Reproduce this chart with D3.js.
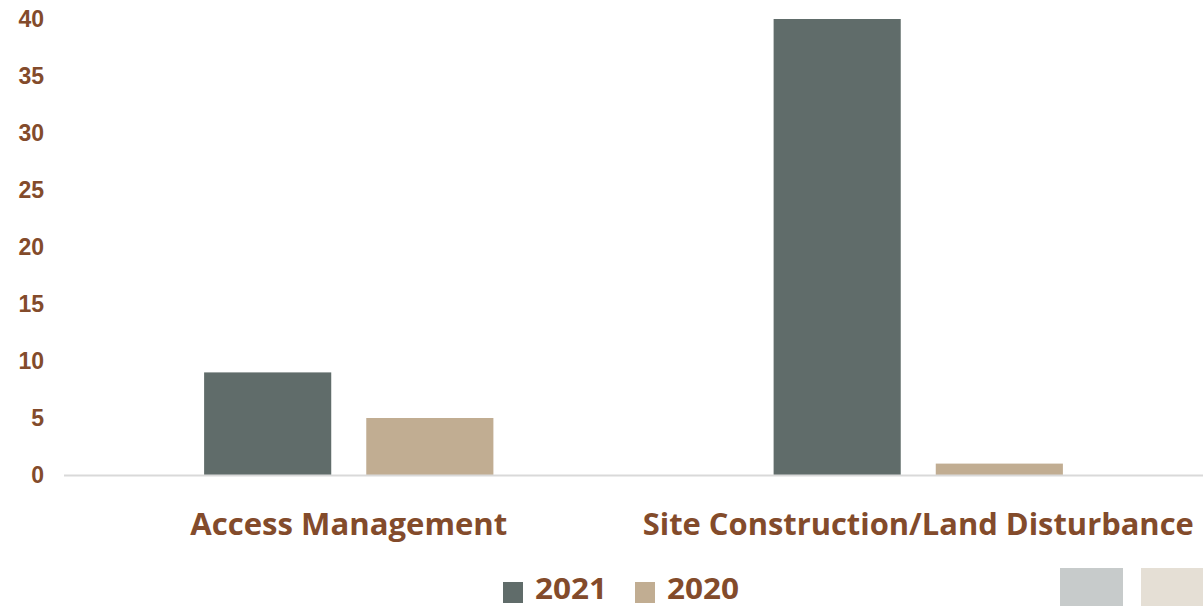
<!DOCTYPE html>
<html>
<head>
<meta charset="utf-8">
<script src="https://cdn.jsdelivr.net/npm/d3@7"></script>
<style>
  html, body { margin: 0; padding: 0; background: #ffffff; }
  svg { display: block; }
</style>
</head>
<body>
<svg id="chart" width="1203" height="606"></svg>
<script>
// Chart data
const categories = ["Access Management", "Site Construction/Land Disturbance"];
const seriesNames = ["2021", "2020"];
const values2021 = [9, 40];
const values2020 = [5, 1];
const yTicks = [0, 5, 10, 15, 20, 25, 30, 35, 40];

const colors = { "2021": "#606c6a", "2020": "#c1ad92" };
const textColor = "#834b2b";
const labelFont = "'Open Sans', Lato, sans-serif";

const svg = d3.select("#chart");
const plot = { left: 64, right: 1203, top: 19, bottom: 475 };

const rows = categories.map((c, i) => ({ category: c, "2021": values2021[i], "2020": values2020[i] }));

const x0 = d3.scaleBand().domain(categories).range([plot.left, plot.right]).paddingInner(0).paddingOuter(0);
const x1 = d3.scaleBand().domain(seriesNames).range([0, x0.bandwidth()]).paddingInner(0.216).paddingOuter(0.864);
const y = d3.scaleLinear().domain([0, 40]).range([plot.bottom, plot.top]);

// Y axis labels (no line, no ticks)
const yAxis = d3.axisLeft(y).tickValues(yTicks).tickSize(0).tickPadding(0);
const yg = svg.append("g").attr("transform", `translate(44,0)`).call(yAxis);
yg.select(".domain").remove();
yg.selectAll("text")
  .attr("fill", textColor)
  .attr("font-family", "'Liberation Sans', Arial, sans-serif")
  .attr("font-weight", "bold")
  .attr("font-size", 23);

// Bars
const groups = svg.append("g").selectAll("g").data(rows).join("g")
  .attr("transform", d => `translate(${x0(d.category)},0)`);
groups.selectAll("rect")
  .data(d => seriesNames.map(s => ({ key: s, value: d[s] })))
  .join("rect")
  .attr("x", d => x1(d.key))
  .attr("width", x1.bandwidth())
  .attr("y", d => y(d.value))
  .attr("height", d => y(0) - y(d.value))
  .attr("fill", d => colors[d.key]);

// Baseline
svg.append("line")
  .attr("x1", plot.left).attr("x2", plot.right)
  .attr("y1", y(0) + 0.5).attr("y2", y(0) + 0.5)
  .attr("stroke", "#d9d9d9").attr("stroke-width", 2);

// Category labels
const labelWidths = { "Access Management": 317, "Site Construction/Land Disturbance": 551 };
const xAxis = d3.axisBottom(x0).tickSize(0).tickPadding(0);
const xg = svg.append("g").attr("transform", `translate(0,${y(0)})`).call(xAxis);
xg.select(".domain").remove();
xg.selectAll("text")
  .attr("dy", null)
  .attr("y", 60)
  .attr("fill", textColor)
  .attr("font-family", labelFont)
  .attr("font-weight", "bold")
  .attr("font-size", 30)
  .attr("textLength", d => labelWidths[d])
  .attr("lengthAdjust", "spacingAndGlyphs");

// Legend
const legend = svg.append("g").attr("transform", "translate(503,581)");
const legendX = [0, 132];
seriesNames.forEach((s, i) => {
  const g = legend.append("g").attr("transform", `translate(${legendX[i]},0)`);
  g.append("rect").attr("y", 1).attr("width", 20).attr("height", 21).attr("fill", colors[s]);
  g.append("text")
    .attr("x", 32).attr("y", 18)
    .attr("fill", textColor)
    .attr("font-family", labelFont)
    .attr("font-weight", "bold")
    .attr("font-size", 28)
    .attr("textLength", 72)
    .attr("lengthAdjust", "spacingAndGlyphs")
    .text(s);
});

// Faded swatches at bottom right
svg.append("rect").attr("x", 1060).attr("y", 568).attr("width", 63).attr("height", 38).attr("fill", "#c7cbcb");
svg.append("rect").attr("x", 1141).attr("y", 568).attr("width", 62).attr("height", 38).attr("fill", "#e5dfd5");
</script>
</body>
</html>
